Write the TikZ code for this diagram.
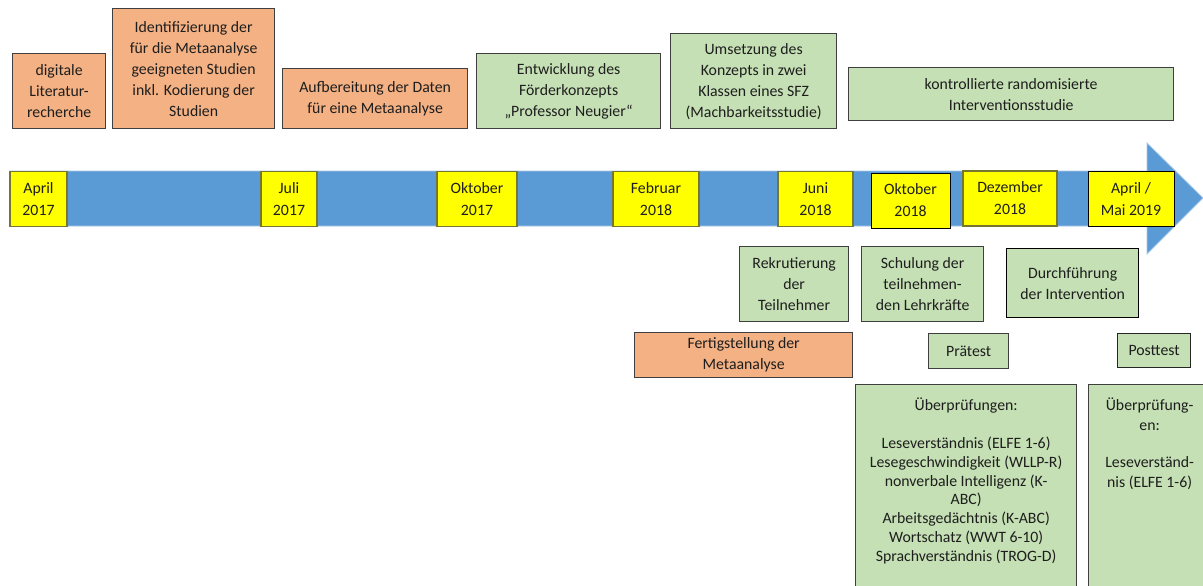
\documentclass[tikz,border=0pt]{standalone}
\usepackage{fontspec}
\setmainfont{Carlito}
\usepackage{tikz}
\definecolor{litorange}{HTML}{F4B183}
\definecolor{studygreen}{HTML}{C5E0B4}
\definecolor{barblue}{HTML}{5B9BD5}
\definecolor{dateyellow}{HTML}{FFFF00}
\definecolor{dateline}{HTML}{76762E}
\definecolor{boxline}{HTML}{3F3F3F}
\definecolor{inktext}{HTML}{1E1E1E}

\begin{document}
\begin{tikzpicture}[x=1pt, y=-1pt,
  phase/.style={draw=boxline, line width=1.3pt, align=center, inner sep=0pt, text=inktext, font=\fontsize{15.8}{21}\selectfont, anchor=north west},
  lit/.style={phase, fill=litorange},
  study/.style={phase, fill=studygreen},
  date/.style={draw=dateline, line width=1.1pt, fill=dateyellow, align=center, inner sep=0pt, text=inktext, font=\fontsize{15.8}{22}\selectfont, minimum height=55pt}]
\useasboundingbox (0,0) rectangle (1203,586);

% Literatur und Metaanalyse
\node [lit, minimum width=93pt, minimum height=75pt] (litsearch) at (12,53) {digitale\\Literatur-\\recherche};
\node [lit, minimum width=162pt, minimum height=120pt] (identify) at (112,8) {Identifizierung der\\für die Metaanalyse\\geeigneten Studien\\inkl. Kodierung der\\Studien};
\node [lit, minimum width=185pt, minimum height=60pt] (prepare) at (282,68) {Aufbereitung der Daten\\für eine Metaanalyse};
\node [study, minimum width=184pt, minimum height=75pt] (develop) at (476,53) {Entwicklung des\\Förderkonzepts\\„Professor Neugier“};
\node [study, minimum width=166pt, minimum height=95pt] (pilot) at (670,33) {Umsetzung des\\Konzepts in zwei\\Klassen eines SFZ\\(Machbarkeitsstudie)};
\node [study, minimum width=325pt, minimum height=53pt] (rct) at (848,67) {kontrollierte randomisierte\\Interventionsstudie};

% Zeitstrahl
\draw [fill=barblue, draw=barblue!55!white, line width=0.8pt] (10,171) -- (1147,171) -- (1147,143) -- (1203,198) -- (1147,254) -- (1147,226) -- (10,226) -- cycle;

\node [date, minimum width=57pt] (apr17) at (38.5,199) {April\\2017};
\node [date, minimum width=56pt] (jul17) at (289,199) {Juli\\2017};
\node [date, minimum width=80pt] (okt17) at (477,199) {Oktober\\2017};
\node [date, minimum width=86pt] (feb18) at (656,199) {Februar\\2018};
\node [date, minimum width=75pt] (jun18) at (815.5,199) {Juni\\2018};
\node [date, draw=black, line width=1pt, minimum width=79pt] (okt18) at (910.5,200.5) {Oktober\\2018};
\node [date, minimum width=94pt] (dez18) at (1010,198.5) {Dezember\\2018};
\node [date, draw=black, line width=1pt, minimum width=86pt] (apr19) at (1131,199) {April /\\Mai 2019};

% Intervention
\node [study, minimum width=109pt, minimum height=75pt] (recruit) at (739,246) {Rekrutierung\\der\\Teilnehmer};
\node [study, minimum width=122pt, minimum height=75pt] (training) at (861,246) {Schulung der\\teilnehmen-\\den Lehrkräfte};
\node [study, draw=black, minimum width=132pt, minimum height=69pt] (conduct) at (1006,248) {Durchführung\\der Intervention};
\node [lit, minimum width=218pt, minimum height=45pt] (finish) at (634,332) {Fertigstellung der\\Metaanalyse};
\node [study, minimum width=80pt, minimum height=35pt] (pretest) at (928,333) {Prätest};
\node [study, draw=black!85, minimum width=73pt, minimum height=34pt] (posttest) at (1117,333) {Posttest};

\node [study, minimum width=221pt, minimum height=220pt] (tests1) at (855,384) {};
\node [anchor=north, align=center, inner sep=0pt, text=inktext, font=\fontsize{15.8}{18.8}\selectfont] (tests1text) at ([yshift=-14pt]tests1.north) {Überprüfungen:\\[18.8pt]Leseverständnis (ELFE 1-6)\\Lesegeschwindigkeit (WLLP-R)\\nonverbale Intelligenz (K-\\ABC)\\Arbeitsgedächtnis (K-ABC)\\Wortschatz (WWT 6-10)\\Sprachverständnis (TROG-D)};
\node [study, minimum width=122pt, minimum height=220pt] (tests2) at (1088,384) {};
\node [anchor=north, align=center, inner sep=0pt, text=inktext, font=\fontsize{15.8}{20}\selectfont] (tests2text) at ([yshift=-14pt]tests2.north) {Überprüfung-\\en:\\[17pt]Leseverständ-\\nis (ELFE 1-6)};
\end{tikzpicture}
\end{document}
